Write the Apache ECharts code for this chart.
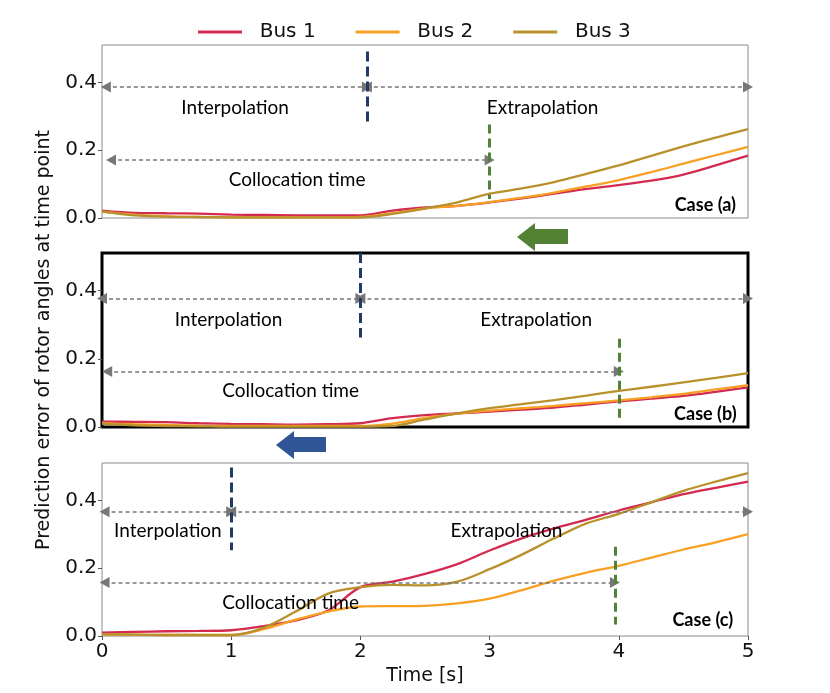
<!DOCTYPE html>
<html>
<head>
<meta charset="utf-8">
<script src="https://cdn.jsdelivr.net/npm/echarts@6/dist/echarts.min.js"></script>
<style>
html, body { margin: 0; background: #fff; }
#chart { width: 830px; height: 693px; }
</style>
</head>
<body>
<div id="chart"></div>
<script>
// time samples [s]
const time = [0, 0.25, 0.5, 0.75, 1, 1.25, 1.5, 1.75, 2, 2.25, 2.5, 2.75, 3, 3.25, 3.5, 3.75, 4, 4.25, 4.5, 4.75, 5];
const busNames = ['Bus 1', 'Bus 2', 'Bus 3'];
const caseNames = ['Case (a)', 'Case (b)', 'Case (c)'];
const yTicks = [0, 0.2, 0.4];
const xTicks = [0, 1, 2, 3, 4, 5];

// case (a)
const caseA_bus1 = [0.022, 0.015, 0.014, 0.013, 0.010, 0.009, 0.008, 0.008, 0.008, 0.022, 0.031, 0.036, 0.046, 0.058, 0.072, 0.086, 0.097, 0.110, 0.128, 0.155, 0.184];
const caseA_bus2 = [0.019, 0.010, 0.005, 0.003, 0.002, 0.002, 0.002, 0.002, 0.003, 0.014, 0.028, 0.036, 0.047, 0.060, 0.075, 0.093, 0.112, 0.135, 0.160, 0.185, 0.210];
const caseA_bus3 = [0.019, 0.008, 0.004, 0.003, 0.002, 0.002, 0.002, 0.002, 0.002, 0.012, 0.028, 0.046, 0.072, 0.087, 0.106, 0.130, 0.155, 0.183, 0.211, 0.237, 0.262];
// case (b)
const caseB_bus1 = [0.016, 0.015, 0.014, 0.011, 0.009, 0.008, 0.007, 0.008, 0.011, 0.026, 0.035, 0.040, 0.045, 0.051, 0.057, 0.066, 0.075, 0.083, 0.091, 0.103, 0.116];
const caseB_bus2 = [0.011, 0.008, 0.006, 0.004, 0.003, 0.003, 0.003, 0.003, 0.003, 0.010, 0.027, 0.039, 0.048, 0.055, 0.062, 0.070, 0.078, 0.087, 0.097, 0.110, 0.123];
const caseB_bus3 = [0.009, 0.005, 0.003, 0.002, 0.001, 0.001, 0.001, 0.001, 0.001, 0.003, 0.022, 0.040, 0.055, 0.067, 0.079, 0.092, 0.106, 0.118, 0.131, 0.144, 0.158];
// case (c)
const caseC_bus1 = [0.010, 0.012, 0.014, 0.015, 0.017, 0.029, 0.046, 0.075, 0.144, 0.160, 0.183, 0.212, 0.252, 0.288, 0.317, 0.343, 0.370, 0.394, 0.418, 0.437, 0.455];
const caseC_bus2 = [0.005, 0.004, 0.003, 0.003, 0.002, 0.020, 0.048, 0.072, 0.087, 0.088, 0.089, 0.096, 0.110, 0.135, 0.163, 0.187, 0.207, 0.231, 0.255, 0.276, 0.300];
const caseC_bus3 = [0.005, 0.004, 0.003, 0.003, 0.003, 0.024, 0.072, 0.125, 0.144, 0.151, 0.149, 0.160, 0.197, 0.240, 0.288, 0.332, 0.360, 0.394, 0.428, 0.455, 0.480];

const caseData = [
    [caseA_bus1, caseA_bus2, caseA_bus3],
    [caseB_bus1, caseB_bus2, caseB_bus3],
    [caseC_bus1, caseC_bus2, caseC_bus3]
];

// interpolation / extrapolation split and collocation end time for each case
const splitTime = [2.05, 2.0, 1.0];
const colloEnd = [3.0, 4.0, 3.97];

// annotation placement (data coords of each panel)
const notes = [
    { arrowY: 0.386, arrowL: 0.03, colloY: 0.171, colloL: 0.07, blue: [0.491, 0.279], green: [0.276, 0.056],
      interp: [1.03, 0.324], extrap: [3.41, 0.324], collo: [1.51, 0.112], tag: [4.67, 0.038] },
    { arrowY: 0.377, arrowL: 0.0, colloY: 0.163, colloL: 0.04, blue: [0.51, 0.262], green: [0.259, 0.026],
      interp: [0.98, 0.315], extrap: [3.36, 0.315], collo: [1.46, 0.106], tag: [4.67, 0.038] },
    { arrowY: 0.366, arrowL: 0.02, colloY: 0.158, colloL: 0.02, blue: [0.497, 0.253], green: [0.263, 0.034],
      interp: [0.51, 0.309], extrap: [3.13, 0.309], collo: [1.46, 0.099], tag: [4.65, 0.046] }
];

const colors = ['#d32a50', '#f7a024', '#b8912c'];
const tickFont = 'DejaVu Sans';
const noteFont = 'Lato';

const gridPos = [
    { top: 45, height: 173 },
    { top: 253, height: 174 },
    { top: 463, height: 173 }
];

const grids = gridPos.map((g, i) => ({
    left: 102, right: 82, top: g.top, height: g.height,
    show: true,
    borderColor: i === 1 ? '#000' : '#8a8a8a',
    borderWidth: i === 1 ? 3 : 1,
    backgroundColor: 'transparent'
}));

const xAxes = gridPos.map((g, i) => ({
    type: 'value', gridIndex: i, min: 0, max: 5, interval: 1,
    axisLine: { show: false },
    splitLine: { show: false },
    axisTick: { show: i === 2, length: 4, lineStyle: { color: '#555' } },
    axisLabel: {
        show: i === 2, fontFamily: tickFont, fontSize: 20, color: '#111', margin: 6,
        customValues: xTicks
    },
    name: i === 2 ? 'Time [s]' : '',
    nameLocation: 'middle', nameGap: 31,
    nameTextStyle: { fontFamily: tickFont, fontSize: 19, color: '#111' }
}));

const yAxes = gridPos.map((g, i) => ({
    type: 'value', gridIndex: i, min: 0, max: 0.51,
    axisLine: { show: false },
    splitLine: { show: false },
    axisTick: { show: true, length: 4, lineStyle: { color: '#555' }, customValues: yTicks },
    axisLabel: {
        fontFamily: tickFont, fontSize: 20, color: '#111', margin: 5,
        customValues: yTicks,
        formatter: v => v.toFixed(1)
    },
    name: i === 1 ? 'Prediction error of rotor angles at time point' : '',
    nameLocation: 'middle', nameGap: 48,
    nameTextStyle: { fontFamily: tickFont, fontSize: 19, color: '#111' }
}));

const arrowStyle = { type: [4, 3], color: '#777', width: 1.6 };

function arrowLines(i) {
    const n = notes[i];
    const seg = (x0, x1, y) => [{ coord: [x0, y] }, { coord: [x1, y] }];
    return [
        seg(n.arrowL, splitTime[i], n.arrowY),
        seg(splitTime[i], 5, n.arrowY),
        seg(n.colloL, colloEnd[i], n.colloY)
    ];
}

function markerLines(i) {
    const n = notes[i];
    return [
        [{ coord: [splitTime[i], n.blue[0]], lineStyle: { color: '#213a66', width: 3, type: [10, 5] } },
         { coord: [splitTime[i], n.blue[1]] }],
        [{ coord: [colloEnd[i], n.green[0]], lineStyle: { color: '#548235', width: 3, type: [9, 5] } },
         { coord: [colloEnd[i], n.green[1]] }]
    ];
}

function textPoints(i) {
    const n = notes[i];
    const txt = (name, c, bold) => ({
        name: name, coord: c, symbol: 'rect', symbolSize: 1,
        itemStyle: { color: 'rgba(0,0,0,0)' },
        label: {
            show: true, position: 'inside', formatter: '{b}', color: '#000',
            fontFamily: noteFont, fontSize: bold ? 18 : 19, fontWeight: bold ? 'bold' : 'normal'
        }
    });
    return [
        txt('Interpolation', n.interp),
        txt('Extrapolation', n.extrap),
        txt('Collocation time', n.collo),
        txt(caseNames[i], n.tag, true)
    ];
}

const series = [];
caseData.forEach((buses, i) => {
    buses.forEach((vals, b) => {
        const s = {
            name: busNames[b],
            type: 'line',
            xAxisIndex: i, yAxisIndex: i,
            data: time.map((t, k) => [t, vals[k]]),
            showSymbol: false, symbol: 'none',
            smooth: 0.3,
            lineStyle: { color: colors[b], width: 2.3 },
            itemStyle: { color: colors[b] },
            emphasis: { disabled: true },
            animation: false, z: 3
        };
        if (b === 0) {
            s.markLine = {
                silent: true, animation: false,
                symbol: ['triangle', 'triangle'], symbolSize: [11, 10],
                label: { show: false },
                lineStyle: arrowStyle,
                emphasis: { disabled: true },
                data: arrowLines(i)
            };
        }
        if (b === 1) {
            s.markLine = {
                silent: true, animation: false,
                symbol: ['none', 'none'],
                label: { show: false },
                emphasis: { disabled: true },
                data: markerLines(i)
            };
        }
        if (b === 2) {
            s.markPoint = {
                silent: true, animation: false,
                data: textPoints(i)
            };
        }
        series.push(s);
    });
});

const chart = echarts.init(document.getElementById('chart'));
chart.setOption({
    backgroundColor: '#fff',
    animation: false,
    legend: {
        data: busNames.map(n => ({ name: n, icon: 'rect' })),
        left: 193, top: 17,
        itemWidth: 44, itemHeight: 3, itemGap: 40,
        formatter: name => '  ' + name,
        textStyle: { fontFamily: tickFont, fontSize: 20, color: '#111' }
    },
    grid: grids,
    xAxis: xAxes,
    yAxis: yAxes,
    series: series,
    graphic: [
        {
            type: 'polygon', silent: true,
            shape: { points: [[517, 237], [535, 223], [535, 229], [568, 229], [568, 244], [535, 244], [535, 251]] },
            style: { fill: '#548235' }
        },
        {
            type: 'polygon', silent: true,
            shape: { points: [[276, 445], [294, 431], [294, 437], [326, 437], [326, 452], [294, 452], [294, 459]] },
            style: { fill: '#2f5597' }
        }
    ]
});
</script>
</body>
</html>
